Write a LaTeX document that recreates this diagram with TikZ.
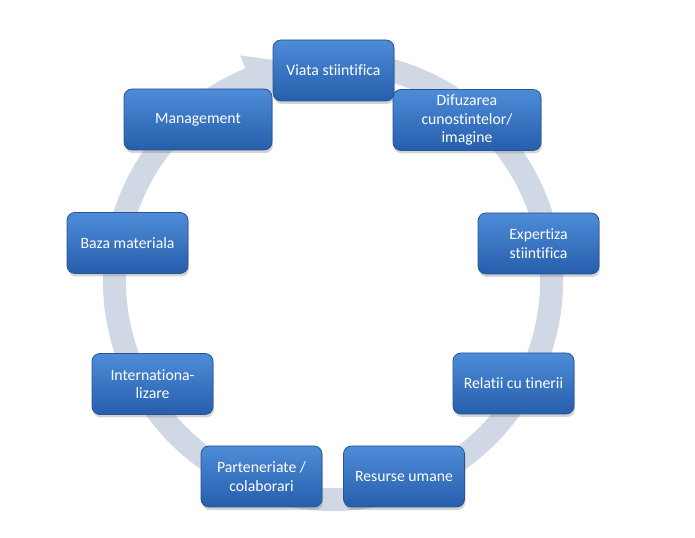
\documentclass[tikz,border=0pt]{standalone}
\usepackage{fontspec}
\setmainfont{Carlito}[Ligatures={NoCommon,NoRare},RawFeature={-liga;-dlig;-clig}]
\usetikzlibrary{shadows}

\definecolor{ringgray}{RGB}{208,215,229}
\definecolor{boxtop}{RGB}{78,140,216}
\definecolor{boxbottom}{RGB}{38,94,172}
\definecolor{boxline}{RGB}{38,84,148}

\begin{document}
\begin{tikzpicture}[line cap=round,line join=round,x=1bp,y=1bp,
    stagebox/.style={draw=boxline,line width=0.8bp,rounded corners=8bp,
      top color=boxtop,bottom color=boxbottom,text=white,align=center,
      minimum width=121bp,minimum height=61bp,inner sep=2bp,
      font=\fontsize{15.8}{18.5}\selectfont,
      drop shadow={opacity=0.35,shadow xshift=1bp,shadow yshift=-3bp}},
    widebox/.style={stagebox,minimum width=148bp}]
    \useasboundingbox (0,0) rectangle (695,538);
    % ring with arrow head
    \fill[ringgray,shift={(333,257)}] (80:207bp)
      arc[start angle=80,end angle=-247.6,radius=207bp]
      -- (112.4:193bp) -- (97:218bp) -- (112.4:244bp) -- (112.4:230bp)
      arc[start angle=-247.6,end angle=80,radius=230bp] -- cycle;
    % stages
    \node[stagebox] (viata) at (333.5,467.5) {Viata stiintifica};
    \node[widebox] (difuzare) at (467,418) {Difuzarea\\cunostintelor/\\imagine};
    \node[stagebox] (expertiza) at (538.5,294.5) {Expertiza\\stiintifica};
    \node[stagebox] (relatii) at (513.5,154.5) {Relatii cu tinerii};
    \node[stagebox] (resurse) at (404,61.5) {Resurse umane};
    \node[stagebox] (parteneriate) at (261.5,61.5) {Parteneriate /\\colaborari};
    \node[stagebox] (internationalizare) at (152.5,154) {Internationa-\\lizare};
    \node[stagebox] (baza) at (127.5,295) {Baza materiala};
    \node[widebox] (management) at (198,418.5) {Management};
  \end{tikzpicture}
\end{document}
